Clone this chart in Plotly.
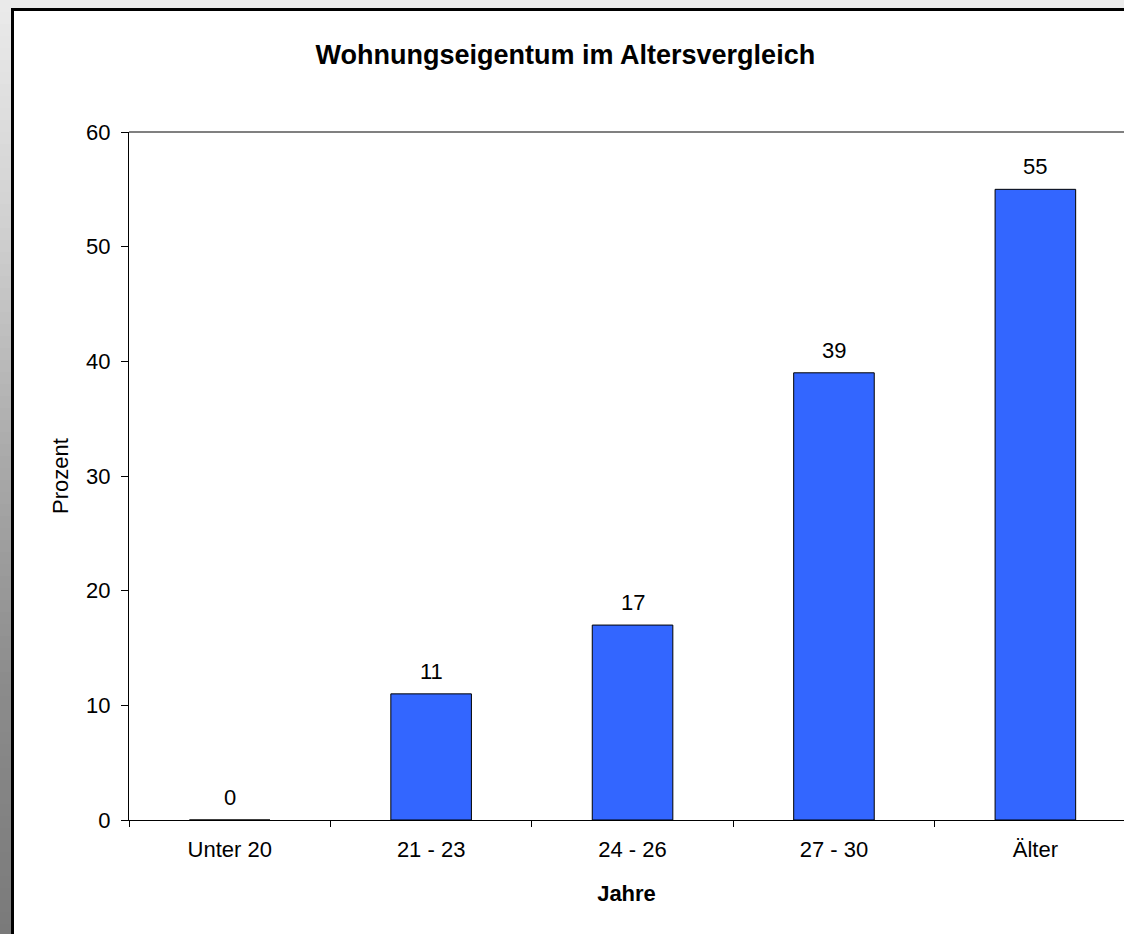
import plotly.graph_objects as go

# data
altersgruppen = ["Unter 20", "21 - 23", "24 - 26", "27 - 30", "Älter"]
prozent = [0, 11, 17, 39, 55]
y_ticks = [0, 10, 20, 30, 40, 50, 60]

W, H = 1124, 934
L, T, B = 129, 132, 114
plot_w = W - L
plot_h = H - T - B


def px_x(px):
    return (px - L) / plot_w


def px_y(py):
    return (H - B - py) / plot_h


# grey gradient on the left edge, light at the top and dark at the bottom
grad_stops = [(0, 235), (230, 208), (450, 171), (680, 140), (934, 122)]


def grey_at(py):
    for (y0, c0), (y1, c1) in zip(grad_stops, grad_stops[1:]):
        if y0 <= py <= y1:
            return c0 + (c1 - c0) * (py - y0) / (y1 - y0)
    return grad_stops[-1][1]


shapes = []
step = 12
for y0 in range(0, H, step):
    g = int(round(grey_at(y0 + step / 2)))
    shapes.append(dict(
        type="rect", xref="paper", yref="paper", layer="below",
        x0=px_x(0), x1=px_x(12), y0=px_y(y0), y1=px_y(y0 + step + 1),
        fillcolor=f"rgb({g},{g},{g})", line=dict(width=0)
    ))

# light strip across the top
shapes.append(dict(
    type="rect", xref="paper", yref="paper", layer="below",
    x0=px_x(11), x1=px_x(W + 5), y0=px_y(0), y1=px_y(9),
    fillcolor="#ebebeb", line=dict(width=0)
))

# black frame of the chart area (only left and top edges are on screen)
shapes.append(dict(
    type="line", xref="paper", yref="paper", layer="below",
    x0=px_x(12.5), x1=px_x(12.5), y0=px_y(8), y1=px_y(H + 5),
    line=dict(color="black", width=3)
))
shapes.append(dict(
    type="line", xref="paper", yref="paper", layer="below",
    x0=px_x(11), x1=px_x(W + 5), y0=px_y(9.5), y1=px_y(9.5),
    line=dict(color="black", width=3)
))

# grey top border of the plot area
shapes.append(dict(
    type="line", xref="x domain", yref="y domain",
    x0=0, x1=1, y0=1, y1=1,
    line=dict(color="#808080", width=2)
))

fig = go.Figure(go.Bar(
    x=altersgruppen,
    y=prozent,
    width=0.4,
    marker=dict(color="#3366ff", line=dict(color="black", width=1)),
    hoverinfo="x+y"
))

for cat, val in zip(altersgruppen, prozent):
    fig.add_annotation(
        x=cat, y=val, text=str(val), showarrow=False,
        yanchor="bottom", yshift=8,
        font=dict(size=22, color="black")
    )

fig.update_layout(
    width=W, height=H,
    margin=dict(l=L, r=0, t=T, b=B),
    paper_bgcolor="white",
    plot_bgcolor="white",
    font=dict(family="Liberation Sans, Arial, sans-serif", color="black"),
    title=dict(
        text="<b>Wohnungseigentum im Altersvergleich</b>",
        x=0.503, xanchor="center", y=1 - 55 / H, yanchor="middle",
        font=dict(size=27)
    ),
    shapes=shapes,
    showlegend=False,
    bargap=0.6
)

fig.update_xaxes(
    range=[-0.5, 4.44],
    showline=True, linecolor="black", linewidth=1,
    ticks="outside", tickson="boundaries", ticklen=6, tickcolor="black",
    ticklabelstandoff=10,
    tickfont=dict(size=22),
    title=dict(text="<b>Jahre</b>", font=dict(size=22), standoff=24),
    showgrid=False
)

fig.update_yaxes(
    range=[0, 60],
    tickvals=y_ticks,
    showline=True, linecolor="black", linewidth=1,
    ticks="outside", ticklen=7, tickcolor="black",
    ticklabelstandoff=6,
    tickfont=dict(size=22),
    title=dict(text="Prozent", font=dict(size=22), standoff=11),
    showgrid=False, zeroline=False
)

fig.write_html(
    "out.html",
    config={"displayModeBar": False},
    post_script="document.body.style.margin='0';document.body.style.overflow='hidden';"
)
